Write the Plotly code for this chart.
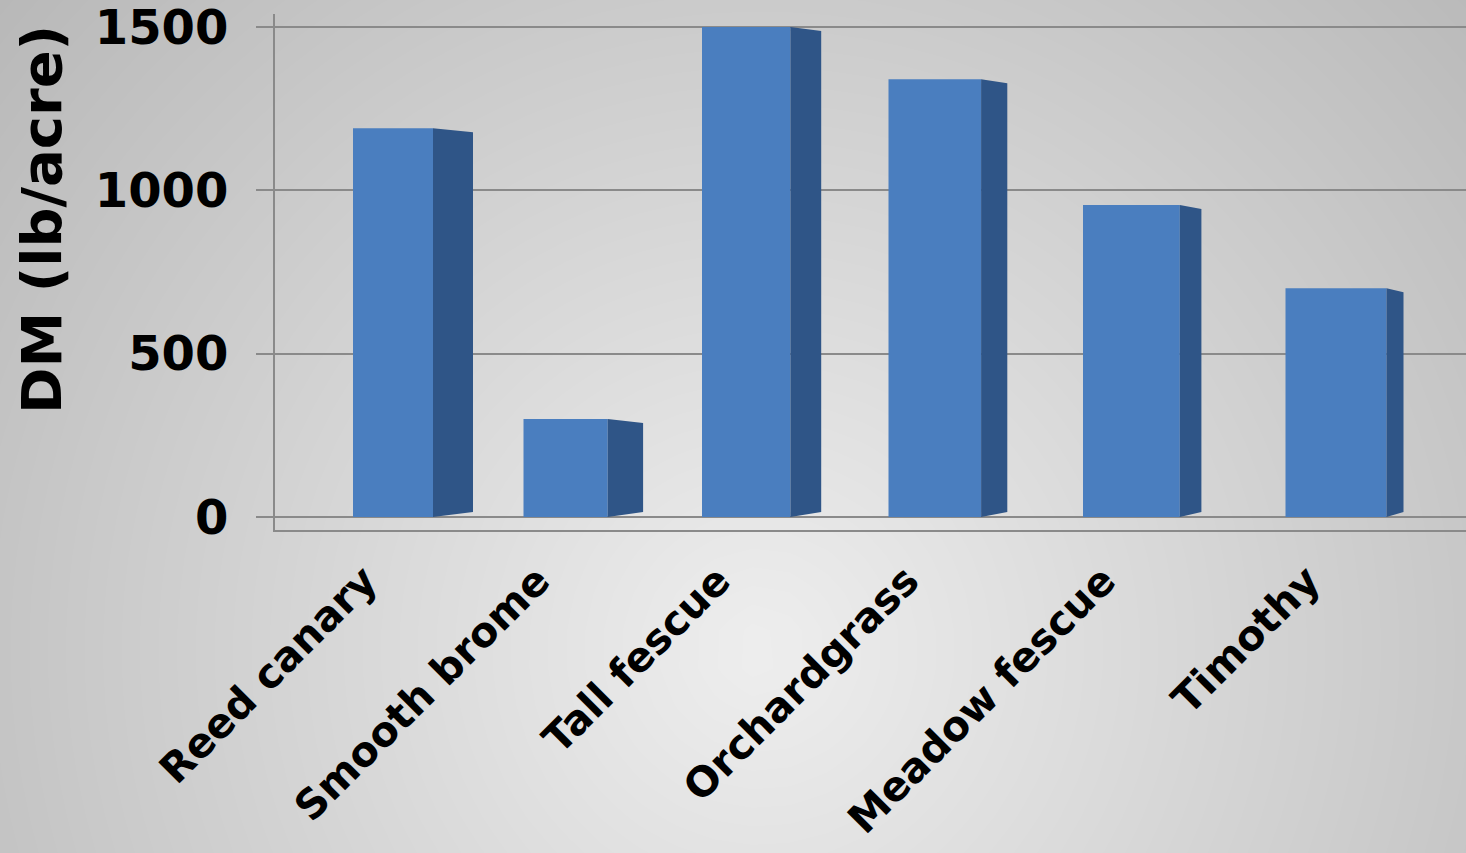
import numpy as np
import plotly.graph_objects as go

# ---------------- data ----------------
categories = ["Reed canary", "Smooth brome", "Tall fescue",
              "Orchardgrass", "Meadow fescue", "Timothy"]
dm_lb_per_acre = [1190, 300, 1500, 1340, 955, 700]
y_tick_values = [0, 500, 1000, 1500]
y_tick_labels = ["0", "500", "1000", "1500"]
y_axis_title = "DM (lb/acre)"

# ---------------- layout helpers (styling / geometry) ----------------
W, H = 1466, 853
n = len(categories)
idx = np.arange(n)
# perspective-like spacing of the columns (x axis expressed in screen-like units)
xpos = 393 + 168.6 * idx + 4 * idx ** 2
widths = np.linspace(80, 101, n)      # front face width grows to the right
depth = np.linspace(40, 17, n)        # side face depth shrinks to the right

y0_px, ytop_px = 517, 27              # where 0 and 1500 sit on the page
ppu = (y0_px - ytop_px) / 1500.0
ymin, ymax = -40, 1540
dom_bottom = 1 - (y0_px + (0 - ymin) * ppu) / H
dom_top = 1 - (ytop_px - (ymax - 1500) * ppu) / H
x_left_px = 275

FRONT = "#4a7ebf"
SIDE = "#2f5587"
GRID = "#8a8a8a"
FONT = "DejaVu Sans"

fig = go.Figure()

# background radial grey gradient (full page, on hidden axes)
gx = np.linspace(0, W, 40)
gy = np.linspace(0, H, 24)
GX, GY = np.meshgrid(gx, gy)
shade = 238 - 0.054 * np.hypot(GX - 760, GY - 650)
fig.add_trace(go.Heatmap(
    x=gx, y=gy, z=shade, zsmooth="best", zmin=0, zmax=255,
    colorscale=[[0, "rgb(0,0,0)"], [1, "rgb(255,255,255)"]],
    showscale=False, hoverinfo="skip", xaxis="x", yaxis="y"))

# front faces of the columns
fig.add_trace(go.Bar(
    x=xpos, y=dm_lb_per_acre, width=widths,
    marker=dict(color=FRONT, line=dict(width=0)),
    hovertext=categories, hoverinfo="text+y",
    xaxis="x2", yaxis="y2", showlegend=False))

# side faces (derived from the same values)
for i in range(n):
    v = dm_lb_per_acre[i]
    xr = xpos[i] + widths[i] / 2
    d = depth[i]
    fig.add_trace(go.Scatter(
        x=[xr, xr + d, xr + d, xr, xr],
        y=[0, 15, v - 12, v, 0],
        mode="lines", fill="toself", fillcolor=SIDE,
        line=dict(width=0, color=SIDE),
        hoverinfo="skip", showlegend=False,
        xaxis="x2", yaxis="y2"))

fig.update_layout(
    template="none",
    width=W, height=H,
    margin=dict(l=0, r=0, t=0, b=0, pad=0, autoexpand=False),
    paper_bgcolor="#d8d8d8",
    plot_bgcolor="rgba(0,0,0,0)",
    showlegend=False,
    xaxis=dict(domain=[0, 1], range=[0, W], visible=False, fixedrange=True,
               automargin=False),
    yaxis=dict(domain=[0, 1], range=[H, 0], visible=False, fixedrange=True,
               automargin=False),
    xaxis2=dict(
        domain=[x_left_px / W, 1], range=[x_left_px, W], anchor="y2",
        automargin=False, ticklabeloverflow="allow",
        tickmode="array", tickvals=xpos, ticktext=categories,
        tickangle=-45, ticks="",
        tickfont=dict(family=FONT, size=41, color="black", weight="bold"),
        showgrid=False, zeroline=False,
        showline=True, linecolor=GRID, linewidth=2,
        ticklabelstandoff=8, ticklabelshift=-28),
    yaxis2=dict(
        domain=[dom_bottom, dom_top], range=[ymin, ymax], anchor="x2",
        automargin=False, ticklabeloverflow="allow",
        tickmode="array", tickvals=y_tick_values, ticktext=y_tick_labels,
        tickfont=dict(family=FONT, size=48, color="black", weight="bold"),
        showgrid=True, gridcolor=GRID, gridwidth=2, zeroline=False,
        showline=True, linecolor=GRID, linewidth=2,
        ticks="outside", ticklen=17, tickcolor=GRID, tickwidth=2,
        ticklabelstandoff=18),
    annotations=[dict(
        text=y_axis_title, textangle=-90, showarrow=False,
        xref="paper", yref="paper", x=42 / W, y=1 - 220 / H,
        xanchor="center", yanchor="middle",
        font=dict(family=FONT, size=56, color="black", weight="bold"))],
)

fig.write_html("out.html")
